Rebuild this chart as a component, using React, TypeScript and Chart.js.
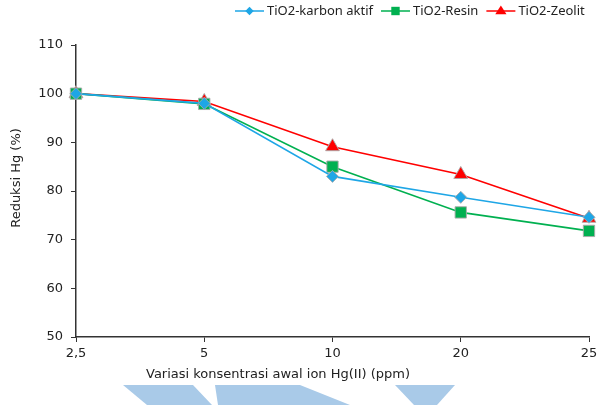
import React, { useEffect, useRef } from "react";
import { Chart, registerables } from "chart.js";

Chart.register(...registerables);

const categories = ["2,5", "5", "10", "20", "25"];
const karbonAktif = [100, 98, 83, 78.7, 74.6];
const resin = [100, 97.9, 85, 75.6, 71.8];
const zeolit = [100, 98.4, 89.1, 83.4, 74.4];
const yTicks = [50, 60, 70, 80, 90, 100, 110];

const seriesNames = ["TiO2-karbon aktif", "TiO2-Resin", "TiO2-Zeolit"];
const seriesColors = ["#1EA6E6", "#00B050", "#FF0000"];
const seriesStyles = ["rectRot", "rect", "triangle"];
const seriesRadius = [6, 8, 8];
const xTitle = "Variasi konsentrasi awal ion Hg(II) (ppm)";
const yTitle = "Reduksi Hg (%)";

const legendPlugin = {
  id: "lineLegend",
  afterDraw(chart: any) {
    const ctx = chart.ctx;
    ctx.save();
    ctx.font = '13px "Noto Sans"';
    ctx.textBaseline = "middle";
    const y = 11;
    let x = 235;
    chart.data.datasets.forEach((d: any) => {
      const sx = x;
      ctx.strokeStyle = d.borderColor;
      ctx.lineWidth = 1.5;
      ctx.beginPath();
      ctx.moveTo(sx, y);
      ctx.lineTo(sx + 29, y);
      ctx.stroke();
      ctx.fillStyle = d.borderColor;
      const r = d.pointRadius * 0.7;
      const cx = sx + 14.5;
      ctx.beginPath();
      if (d.pointStyle === "rectRot") {
        ctx.moveTo(cx, y - r);
        ctx.lineTo(cx + r, y);
        ctx.lineTo(cx, y + r);
        ctx.lineTo(cx - r, y);
      } else if (d.pointStyle === "rect") {
        const s = r * 0.75;
        ctx.rect(cx - s, y - s, 2 * s, 2 * s);
      } else {
        ctx.moveTo(cx, y - r);
        ctx.lineTo(cx + r, y + r * 0.6);
        ctx.lineTo(cx - r, y + r * 0.6);
      }
      ctx.closePath();
      ctx.fill();
      ctx.fillStyle = "#222";
      ctx.textAlign = "left";
      ctx.fillText(d.label, sx + 32, y);
      x = sx + 32 + ctx.measureText(d.label).width + 8;
    });
    ctx.restore();
  },
};

const titlesPlugin = {
  id: "titles",
  afterDraw(chart: any) {
    const ctx = chart.ctx;
    ctx.save();
    ctx.font = '13px "DejaVu Sans"';
    ctx.fillStyle = "#222";
    ctx.textAlign = "center";
    ctx.textBaseline = "middle";
    ctx.fillText(xTitle, 278, 375);
    ctx.translate(17, 178);
    ctx.rotate(-Math.PI / 2);
    ctx.fillText(yTitle, 0, 0);
    ctx.restore();
  },
};

const watermarkPlugin = {
  id: "watermark",
  afterDraw(chart: any) {
    const ctx = chart.ctx;
    ctx.save();
    ctx.fillStyle = "#A9CAE8";
    const shapes = [
      [[123, 385], [193, 385], [212, 405], [147, 405]],
      [[215, 385], [300, 385], [350, 405], [218, 405]],
      [[395, 385], [455, 385], [437, 405], [414, 405]],
    ];
    shapes.forEach((s) => {
      ctx.beginPath();
      s.forEach((p, i) => (i ? ctx.lineTo(p[0], p[1]) : ctx.moveTo(p[0], p[1])));
      ctx.closePath();
      ctx.fill();
    });
    ctx.restore();
  },
};

export default function App() {
  const ref = useRef<HTMLCanvasElement>(null);
  useEffect(() => {
    document.body.style.margin = "0";
    const data = [karbonAktif, resin, zeolit];
    const chart = new Chart(ref.current!, {
      type: "line",
      data: {
        labels: categories,
        datasets: data.map((vals, i) => ({
          label: seriesNames[i],
          data: vals,
          borderColor: seriesColors[i],
          backgroundColor: seriesColors[i],
          pointBackgroundColor: seriesColors[i],
          pointBorderColor: "rgba(170,170,170,0.9)",
          pointBorderWidth: 1,
          pointStyle: seriesStyles[i] as any,
          pointRadius: seriesRadius[i],
          borderWidth: 1.6,
          tension: 0,
        })),
      },
      options: {
        animation: false,
        responsive: false,
        devicePixelRatio: 1,
        layout: { padding: { top: 45, right: 16, left: 0, bottom: 0 } },
        plugins: { legend: { display: false }, tooltip: { enabled: false } },
        scales: {
          x: {
            offset: false,
            grid: { drawOnChartArea: false, drawTicks: true, tickLength: 5, color: "#333" },
            border: { color: "#333", width: 1.5 },
            ticks: { color: "#222", font: { family: "DejaVu Sans", size: 13 }, padding: 4, maxRotation: 0 },
            afterFit: (s: any) => {
              s.height = 68;
            },
          },
          y: {
            min: 50,
            max: 110,
            afterBuildTicks: (s: any) => {
              s.ticks = yTicks.map((v) => ({ value: v }));
            },
            grid: { drawOnChartArea: false, drawTicks: true, tickLength: 5, color: "#333" },
            border: { color: "#333", width: 1.5 },
            ticks: { color: "#222", font: { family: "DejaVu Sans", size: 13 }, padding: 8 },
            afterFit: (s: any) => {
              s.width = 76;
            },
          },
        },
      },
      plugins: [legendPlugin, titlesPlugin, watermarkPlugin],
    });
    return () => chart.destroy();
  }, []);
  return (
    <div style={{ width: 605, height: 405, background: "#fff" }}>
      <canvas ref={ref} width={605} height={405} style={{ display: "block" }} />
    </div>
  );
}
